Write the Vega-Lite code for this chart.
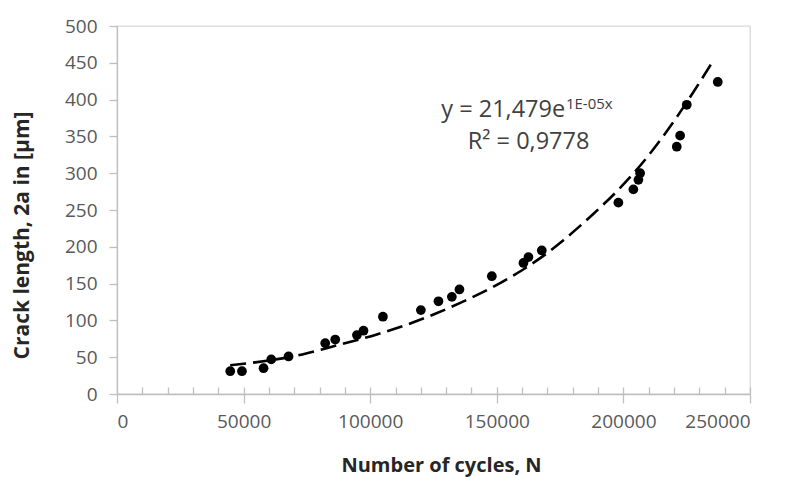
{
  "$schema": "https://vega.github.io/schema/vega-lite/v6.json",
  "width": 633,
  "height": 368,
  "autosize": "none",
  "padding": {"left": 117, "top": 26, "right": 39, "bottom": 83},
  "background": "white",
  "config": {
    "view": {"stroke": "#d9d9d9", "strokeWidth": 1.3},
    "font": "Open Sans"
  },
  "datasets": {
    "points": [
      {"N": 44730, "a": 31}, {"N": 49350, "a": 31}, {"N": 57880, "a": 35},
      {"N": 60920, "a": 47}, {"N": 67750, "a": 51}, {"N": 82240, "a": 69},
      {"N": 86190, "a": 74}, {"N": 94750, "a": 80}, {"N": 97360, "a": 86},
      {"N": 105020, "a": 105}, {"N": 120020, "a": 114}, {"N": 126960, "a": 126},
      {"N": 132250, "a": 132}, {"N": 135250, "a": 142}, {"N": 148040, "a": 160},
      {"N": 160520, "a": 178}, {"N": 162500, "a": 186}, {"N": 167780, "a": 195},
      {"N": 198020, "a": 260}, {"N": 203940, "a": 278}, {"N": 205920, "a": 291},
      {"N": 206600, "a": 300}, {"N": 221080, "a": 336}, {"N": 222400, "a": 351},
      {"N": 225030, "a": 393}, {"N": 237270, "a": 424}
    ],
    "trend": [
      {"N": 44700, "a": 39}, {"N": 54600, "a": 43}, {"N": 74700, "a": 55},
      {"N": 83500, "a": 63}, {"N": 102600, "a": 81}, {"N": 111800, "a": 91},
      {"N": 125700, "a": 109}, {"N": 138800, "a": 129}, {"N": 152000, "a": 152},
      {"N": 168500, "a": 188}, {"N": 176300, "a": 209}, {"N": 188200, "a": 245},
      {"N": 198700, "a": 280}, {"N": 209200, "a": 321}, {"N": 218400, "a": 363},
      {"N": 227600, "a": 410}, {"N": 235500, "a": 453}
    ]
  },
  "layer": [
    {
      "data": {"name": "points"},
      "mark": {"type": "circle", "size": 95, "opacity": 1, "color": "black"},
      "encoding": {
        "x": {
          "field": "N", "type": "quantitative",
          "scale": {"domain": [0, 250000], "nice": false, "zero": true},
          "axis": {
            "orient": "bottom",
            "values": [0, 50000, 100000, 150000, 200000, 250000],
            "format": "d",
            "grid": false,
            "domainColor": "#bfbfbf", "domainWidth": 1.3,
            "tickColor": "#bfbfbf", "tickSize": 9, "tickWidth": 1.3,
            "labelFont": "Open Sans", "labelFontSize": 19, "labelColor": "#595959",
            "labelPadding": 9,
            "title": "Number of cycles,  N",
            "titleFont": "Open Sans", "titleFontSize": 20, "titleFontWeight": "bold",
            "titleColor": "#262626",
            "titleX": 324, "titleY": 71, "titleBaseline": "middle"
          }
        },
        "y": {
          "field": "a", "type": "quantitative",
          "scale": {"domain": [0, 500], "nice": false},
          "axis": {
            "orient": "left",
            "values": [0, 50, 100, 150, 200, 250, 300, 350, 400, 450, 500],
            "grid": false,
            "domainColor": "#bfbfbf", "domainWidth": 1.3,
            "tickColor": "#bfbfbf", "tickSize": 8, "tickWidth": 1.3,
            "labelFont": "Open Sans", "labelFontSize": 19, "labelColor": "#595959",
            "labelPadding": 12,
            "title": "Crack length, 2a in  [μm]",
            "titleFont": "Open Sans", "titleFontSize": 21, "titleFontWeight": "bold",
            "titleColor": "#262626",
            "titleX": -95, "titleY": 209, "titleBaseline": "middle", "titleAngle": -90, "titleAlign": "center"
          }
        }
      }
    },
    {
      "data": {"name": "trend"},
      "mark": {"type": "line", "color": "black", "strokeWidth": 2.6, "strokeDash": [16, 7], "interpolate": "monotone"},
      "encoding": {
        "x": {
          "field": "N", "type": "quantitative",
          "axis": {
            "orient": "bottom",
            "values": [10000, 20000, 30000, 40000, 50000, 60000, 70000, 80000, 90000, 100000, 110000, 120000, 130000, 140000, 150000, 160000, 170000, 180000, 190000, 200000, 210000, 220000, 230000, 240000, 250000],
            "labels": false, "domain": false, "grid": false,
            "tickColor": "#bfbfbf", "tickSize": -7, "tickWidth": 1.3,
            "title": null
          }
        },
        "y": {"field": "a", "type": "quantitative", "axis": null}
      }
    },
    {
      "data": {"values": [{"t": "y = 21,479e"}]},
      "mark": {"type": "text", "align": "right", "baseline": "middle", "font": "Open Sans", "fontSize": 23.5, "color": "#404040"},
      "encoding": {
        "x": {"datum": 177000, "type": "quantitative", "axis": null},
        "y": {"datum": 386, "type": "quantitative", "axis": null},
        "text": {"field": "t"}
      }
    },
    {
      "data": {"values": [{"t": "1E-05x"}]},
      "mark": {"type": "text", "align": "left", "baseline": "middle", "font": "Open Sans", "fontSize": 15, "color": "#404040"},
      "encoding": {
        "x": {"datum": 177300, "type": "quantitative", "axis": null},
        "y": {"datum": 394, "type": "quantitative", "axis": null},
        "text": {"field": "t"}
      }
    },
    {
      "data": {"values": [{"t": "R² = 0,9778"}]},
      "mark": {"type": "text", "align": "center", "baseline": "middle", "font": "Open Sans", "fontSize": 23.5, "color": "#404040"},
      "encoding": {
        "x": {"datum": 162570, "type": "quantitative", "axis": null},
        "y": {"datum": 342, "type": "quantitative", "axis": null},
        "text": {"field": "t"}
      }
    }
  ],
  "resolve": {"axis": {"x": "independent", "y": "independent"}}
}
